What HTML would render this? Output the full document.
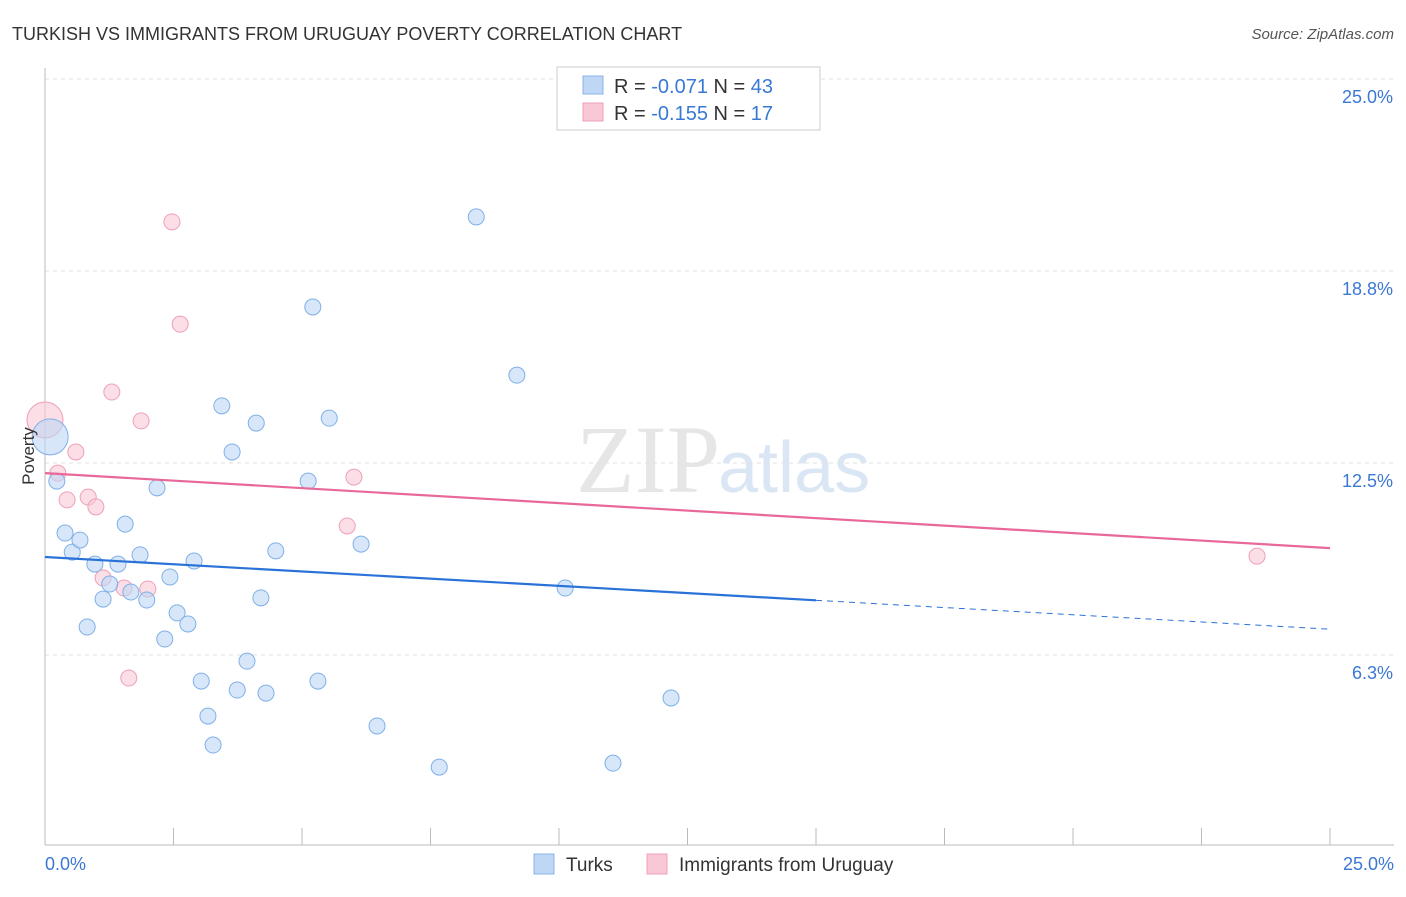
<!DOCTYPE html>
<html><head><meta charset="utf-8"><style>
body{margin:0;background:#fff;font-family:"Liberation Sans",sans-serif;}
</style></head><body>
<svg width="1406" height="892" xmlns="http://www.w3.org/2000/svg" id="chart">
<text x="12" y="40" font-size="18" fill="#333">TURKISH VS IMMIGRANTS FROM URUGUAY POVERTY CORRELATION CHART</text>
<text x="1394" y="39" font-size="15" fill="#555" text-anchor="end" font-style="italic">Source: ZipAtlas.com</text>
<text x="720" y="492" font-size="96" fill="#e6e6e6" text-anchor="end" font-family="Liberation Serif,serif">ZIP</text>
<text x="718" y="492" font-size="72" fill="#dbe6f5">atlas</text>
<g id="grid"></g>
<g id="axes"></g>
<g id="marks"></g>
<text x="34" y="456" font-size="17" fill="#333" text-anchor="middle" transform="rotate(-90 34 456)">Poverty</text>
<g>
<rect x="557" y="67" width="263" height="63" fill="#fff" stroke="#ccc"/>
<rect x="583" y="76" width="20" height="18" fill="#bdd7f5" stroke="#8ab4e8"/>
<text x="614" y="93" font-size="20" fill="#333">R = <tspan fill="#3a78d4">-0.071</tspan>   N = <tspan fill="#3a78d4">43</tspan></text>
<rect x="583" y="103" width="20" height="18" fill="#f8c8d6" stroke="#f0a0b8"/>
<text x="614" y="120" font-size="20" fill="#333">R = <tspan fill="#3a78d4">-0.155</tspan>   N =  <tspan fill="#3a78d4">17</tspan></text>
</g>
<g>
<rect x="534" y="854" width="20" height="20" fill="#bdd7f5" stroke="#8ab4e8"/>
<text x="566" y="871" font-size="19" fill="#333">Turks</text>
<rect x="647" y="854" width="20" height="20" fill="#f8c8d6" stroke="#f0a0b8"/>
<text x="679" y="871" font-size="19" fill="#333">Immigrants from Uruguay</text>
</g>
</svg>
<script>
const yTicks=[6.25,12.5,18.75,25];
const yTickLabels=["6.3%","12.5%","18.8%","25.0%"];
const xTickLabels=["0.0%","25.0%"];
const turksX=[0.10,0.23,0.39,0.53,0.68,0.82,0.97,1.13,1.26,1.42,1.56,1.67,1.85,1.98,2.18,2.33,2.43,2.57,2.78,2.90,3.04,3.17,3.27,3.44,3.74,3.93,4.11,4.20,4.30,4.49,5.12,5.21,5.31,5.53,6.15,6.46,7.67,8.39,9.18,10.12,11.05,12.18,3.64];
const turksY=[13.35,11.91,10.22,9.60,9.99,7.16,9.21,8.07,8.56,9.21,10.51,8.30,9.51,8.04,11.69,6.77,8.79,7.62,7.26,9.31,5.40,4.26,3.32,14.36,5.11,6.05,13.80,8.11,5.01,9.64,11.91,17.58,5.40,13.96,9.86,3.94,2.60,20.51,15.36,8.43,2.73,4.85,12.86];
const uruX=[0,0.25,0.43,0.60,0.84,0.99,1.13,1.30,1.54,1.63,1.87,2.00,2.47,2.63,5.88,6.01,23.58];
const uruY=[13.90,12.17,11.30,12.86,11.39,11.07,8.76,14.81,8.43,5.50,13.87,8.40,20.35,17.02,10.45,12.04,9.47];
const turksTrend=[9.44,7.09];
const uruTrend=[12.17,9.73];
const X=v=>45+v/25*1285, Y=v=>847-v/25*768;
const NS="http://www.w3.org/2000/svg";
function mk(p,tag,attrs){const e=document.createElementNS(NS,tag);for(const k in attrs)e.setAttribute(k,attrs[k]);p.appendChild(e);return e;}
const grid=document.getElementById('grid'),axes=document.getElementById('axes'),marks=document.getElementById('marks');
yTicks.forEach((t,i)=>{
 const l=mk(grid,'line',{x1:45,x2:1394,y1:Y(t),y2:Y(t),stroke:'#e2e2e2','stroke-dasharray':'4,4'});
 
 
 const tx=mk(axes,'text',{x:1393,y:Y(t)+24,'font-size':18,fill:'#3a78d4','text-anchor':'end'});tx.textContent=yTickLabels[i];
 
 
});
const ya=mk(axes,'line',{x1:45,x2:45,y1:68,y2:845,stroke:'#bbb'});


const xa=mk(axes,'line',{x1:45,x2:1394,y1:845,y2:845,stroke:'#bbb'});


for(let k=0;k<=10;k++){const tk=mk(axes,'line',{x1:X(k*2.5),x2:X(k*2.5),y1:828,y2:845,stroke:'#bbb'});
 
 }
[[0,'start',45],[25,'end',1394]].forEach((a,i)=>{const t=mk(axes,'text',{x:a[2],y:870,'font-size':18,fill:'#3a78d4','text-anchor':a[1]});t.textContent=xTickLabels[i];
 
 });
function pts(xs,ys,fill,stroke,name){xs.forEach((x,i)=>{const big=(i===0&&x<0.2);const c=mk(marks,'circle',{cx:X(x),cy:Y(ys[i]),r:big?18:8,fill:fill,'fill-opacity':0.6,stroke:stroke,'stroke-width':1});
 
 });}
pts(uruX,uruY,'#f8c8d6','#eea0b8','uruguay-point');
pts(turksX,turksY,'#bdd7f5','#7fb0e8','turks-point');
const b1=mk(marks,'line',{x1:X(0),y1:Y(turksTrend[0]),x2:X(15),y2:Y(turksTrend[0]+(turksTrend[1]-turksTrend[0])*0.6),stroke:'#2a72d8','stroke-width':2.2});


const b2=mk(marks,'line',{x1:X(15),y1:Y(turksTrend[0]+(turksTrend[1]-turksTrend[0])*0.6),x2:X(25),y2:Y(turksTrend[1]),stroke:'#2a72d8','stroke-width':1,'stroke-dasharray':'6,5'});


const p1=mk(marks,'line',{x1:X(0),y1:Y(uruTrend[0]),x2:X(25),y2:Y(uruTrend[1]),stroke:'#e8689a','stroke-width':2.2});


</script>
</body></html>
